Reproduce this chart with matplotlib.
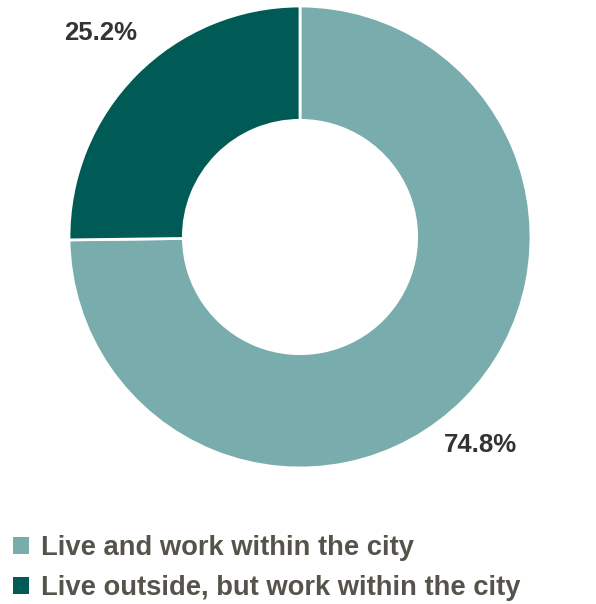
import matplotlib
matplotlib.use("Agg")
from matplotlib import pyplot as plt
from matplotlib.patches import Patch

plt.rcParams['font.family'] = ['Liberation Sans', 'DejaVu Sans']

# data
labels = ["Live and work within the city", "Live outside, but work within the city"]
shares = [74.8, 25.2]
colors = ["#79ADAD", "#005A55"]

W, H = 596, 604
fig = plt.figure(figsize=(W / 100, H / 100), dpi=100)

# donut axes, placed in pixel terms
ax = fig.add_axes([69 / W, 136 / H, 462 / W, 462 / H])
wedges, _ = ax.pie(shares, colors=colors, startangle=90, counterclock=False,
                   radius=1.0, wedgeprops=dict(width=0.495, edgecolor="white", linewidth=2))
ax.set_xlim(-1, 1)
ax.set_ylim(-1, 1)
ax.set_aspect("equal")
ax.axis("off")

# value labels
fig.text(101 / W, 1 - 33 / H, "25.2%", ha="center", va="center",
         fontsize=18.5, fontweight="bold", color="#333333")
fig.text(480 / W, 1 - 445 / H, "74.8%", ha="center", va="center",
         fontsize=18.5, fontweight="bold", color="#333333")

handles = [Patch(facecolor=c, edgecolor="none") for c in colors]
fig.legend(handles, labels, loc="upper left", bbox_to_anchor=(2 / W, 1 - 524 / H),
           frameon=False, handlelength=0.57, handleheight=0.57,
           handletextpad=0.46, labelspacing=0.52, borderaxespad=0,
           labelcolor="#55534A", prop=dict(weight="bold", size=19.7))

fig.savefig("out.png", dpi=100)
